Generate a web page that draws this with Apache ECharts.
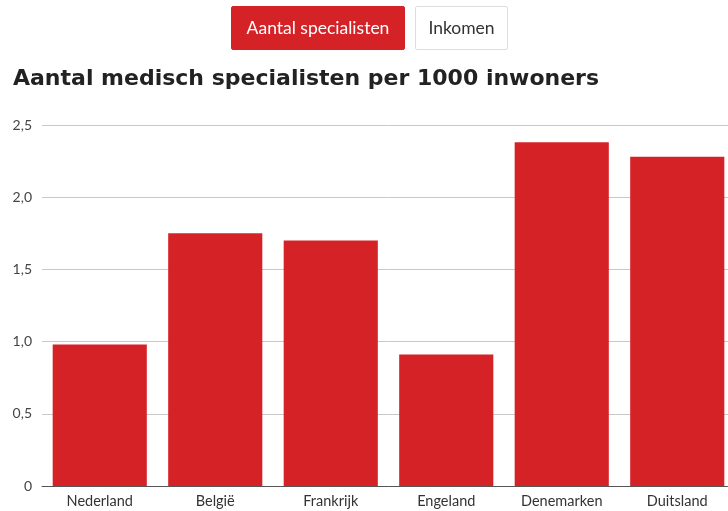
<!DOCTYPE html>
<html>
<head>
<meta charset="utf-8">
<script src="https://cdn.jsdelivr.net/npm/echarts@6/dist/echarts.min.js"></script>
<style>
  html, body { margin: 0; padding: 0; background: #fff; overflow: hidden; }
  .tabs { position: absolute; top: 6px; left: 231px; display: flex; }
  .tab {
    height: 44px; box-sizing: border-box;
    font-family: Lato, sans-serif; font-size: 17.5px; line-height: 41px;
    border: 1px solid #ddd; border-radius: 2px; text-align: center;
  }
  .tab.active { background: #d52227; color: #fff; border-color: #d52227; width: 174px; }
  .tab.plain { background: #fff; color: #333; margin-left: 10px; width: 93px; }
  #chart { position: absolute; top: 0; left: 0; width: 740px; height: 511px; }
</style>
</head>
<body>
<div id="chart"></div>
<div class="tabs">
  <div class="tab active">Aantal specialisten</div>
  <div class="tab plain">Inkomen</div>
</div>
<script>
const countries = ["Nederland", "België", "Frankrijk", "Engeland", "Denemarken", "Duitsland"];
const specialists = [0.98, 1.75, 1.70, 0.91, 2.38, 2.28];

let myChart = echarts.init(document.getElementById("chart"));
myChart.setOption({
  animation: false,
  title: {
    text: "Aantal medisch specialisten per 1000 inwoners",
    left: 8,
    top: 63,
    textStyle: {
      fontFamily: "DejaVu Sans",
      fontWeight: "bold",
      fontSize: 22,
      color: "#222",
    },
  },
  grid: {
    left: 42,
    right: 5,
    top: 125,
    bottom: 25,
  },
  xAxis: {
    type: "category",
    data: countries,
    axisTick: { show: false },
    axisLine: { lineStyle: { color: "#555", width: 1 } },
    axisLabel: {
      color: "#333",
      fontFamily: "Lato",
      fontSize: 14.5,
      margin: 8,
    },
  },
  yAxis: {
    type: "value",
    min: 0,
    max: 2.5,
    interval: 0.5,
    axisLabel: {
      color: "#444",
      fontFamily: "Lato",
      fontSize: 14,
      margin: 10,
      formatter: (v) => (v === 0 ? "0" : v.toFixed(1).replace(".", ",")),
    },
    splitLine: { lineStyle: { color: "#c8c8c8" } },
  },
  series: [
    {
      type: "bar",
      data: specialists,
      barCategoryGap: "18.5%",
      itemStyle: { color: "#d52227" },
    },
  ],
});
</script>
</body>
</html>
